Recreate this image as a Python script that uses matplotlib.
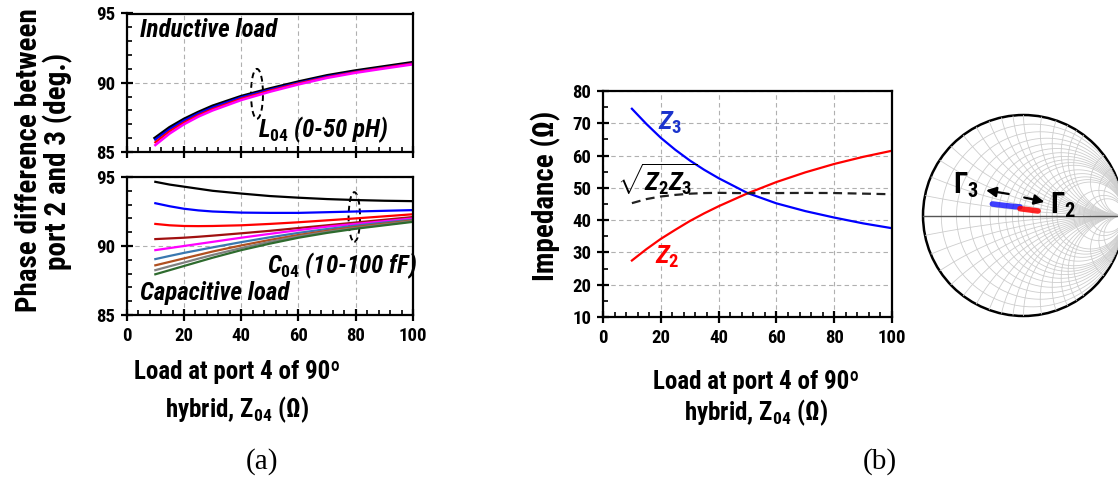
import numpy as np
import matplotlib
matplotlib.use("Agg")
import matplotlib.pyplot as plt
from matplotlib.ticker import MultipleLocator
from matplotlib.patches import Ellipse, Circle
from matplotlib import font_manager

# ---------------- data ----------------
load_a = [10, 15, 20, 25, 30, 40, 50, 60, 70, 80, 90, 100]

# inductive load, L04 = 0..50 pH
ind_black = [86.0, 86.75, 87.35, 87.85, 88.3, 89.0, 89.55, 90.05, 90.5, 90.85, 91.15, 91.45]
ind_blue = [85.9, 86.65, 87.27, 87.78, 88.22, 88.95, 89.5, 90.0, 90.45, 90.8, 91.1, 91.4]
ind_red = [85.7, 86.5, 87.13, 87.66, 88.1, 88.85, 89.43, 89.95, 90.4, 90.77, 91.08, 91.38]
ind_magenta = [85.5, 86.33, 87.0, 87.55, 88.0, 88.75, 89.35, 89.88, 90.35, 90.72, 91.03, 91.33]

# capacitive load, C04 = 10..100 fF
cap_black = [94.65, 94.45, 94.3, 94.15, 94.0, 93.8, 93.62, 93.5, 93.4, 93.33, 93.28, 93.25]
cap_blue = [93.1, 92.88, 92.7, 92.58, 92.5, 92.42, 92.4, 92.4, 92.45, 92.5, 92.55, 92.6]
cap_red = [91.6, 91.5, 91.45, 91.44, 91.45, 91.5, 91.6, 91.72, 91.86, 92.0, 92.15, 92.3]
cap_darkred = [90.5, 90.55, 90.6, 90.67, 90.75, 90.92, 91.1, 91.3, 91.5, 91.7, 91.9, 92.1]
cap_magenta = [89.7, 89.85, 90.0, 90.15, 90.3, 90.6, 90.88, 91.15, 91.4, 91.6, 91.8, 92.0]
cap_steel = [89.05, 89.28, 89.5, 89.7, 89.9, 90.28, 90.63, 90.95, 91.23, 91.48, 91.7, 91.9]
cap_brown = [88.6, 88.85, 89.1, 89.35, 89.6, 90.04, 90.44, 90.8, 91.1, 91.38, 91.62, 91.85]
cap_gray = [88.25, 88.53, 88.8, 89.08, 89.35, 89.85, 90.3, 90.7, 91.02, 91.3, 91.55, 91.8]
cap_green = [87.95, 88.25, 88.55, 88.85, 89.15, 89.7, 90.17, 90.6, 90.95, 91.25, 91.5, 91.75]
cap_colors = ["black", "blue", "red", "#a01010", "magenta", "#3a78b0", "#b05020",
              "#808080", "#2e6b2e"]

# impedances seen at ports 2 and 3
load_b = [10, 15, 20, 25, 30, 35, 40, 50, 60, 70, 80, 90, 100]
z3 = [74.5, 69.8, 65.5, 61.8, 58.5, 55.6, 53.0, 48.4, 45.2, 42.8, 40.8, 39.0, 37.5]
z2 = [27.5, 31.0, 34.2, 37.0, 39.7, 42.1, 44.3, 48.3, 51.8, 54.8, 57.4, 59.6, 61.5]
z_geo = np.sqrt(np.array(z2) * np.array(z3))

# reflection coefficients on the Smith chart
gamma3_re = [-0.31, -0.24, -0.17, -0.10, -0.035]
gamma3_im = [0.115, 0.106, 0.098, 0.090, 0.085]
gamma2_re = [-0.035, 0.01, 0.06, 0.10, 0.145]
gamma2_im = [0.068, 0.062, 0.056, 0.050, 0.045]

# ---------------- fonts ----------------
def pick_sans():
    names = {f.name for f in font_manager.fontManager.ttflist}
    for cand in ["Liberation Sans Narrow", "Arial Narrow", "Roboto Condensed",
                 "Open Sans Condensed", "DejaVu Sans Condensed", "Noto Sans Condensed"]:
        if cand in names:
            return cand, True
    return "Liberation Sans", False


sans, narrow = pick_sans()
fs = 18 if narrow else 16
fs_ylab = 21 if narrow else 18
plt.rcParams["font.family"] = [sans, "DejaVu Sans"]
plt.rcParams["font.weight"] = "bold"
plt.rcParams["axes.labelweight"] = "bold"
plt.rcParams["mathtext.fontset"] = "custom"
plt.rcParams["mathtext.rm"] = f"{sans}:bold"
plt.rcParams["mathtext.it"] = f"{sans}:bold:italic"
plt.rcParams["mathtext.bf"] = f"{sans}:bold"
plt.rcParams["mathtext.sf"] = f"{sans}:bold"

W, H = 1118, 480
fig = plt.figure(figsize=(W / 100, H / 100), dpi=100)


def px_axes(left, top, right, bottom):
    return fig.add_axes([left / W, 1 - bottom / H, (right - left) / W, (bottom - top) / H])


def px_text(x, y, s, **kw):
    return fig.text(x / W, 1 - y / H, s, **kw)


def style(ax, ymaj, ymin, show_x=True):
    for s in ax.spines.values():
        s.set_linewidth(1.6)
    ax.xaxis.set_major_locator(MultipleLocator(20))
    ax.xaxis.set_minor_locator(MultipleLocator(4))
    ax.yaxis.set_major_locator(MultipleLocator(ymaj))
    ax.yaxis.set_minor_locator(MultipleLocator(ymin))
    ax.tick_params(which="major", direction="inout", length=9, width=1.6, labelsize=13.5, pad=4)
    ax.tick_params(which="minor", direction="in", length=3.5, width=1.2)
    ax.tick_params(axis="x", which="both", top=False)
    ax.tick_params(axis="y", which="both", right=False)
    ax.grid(True, which="major", ls=(0, (4, 3)), lw=0.8, color="#b0b0b0")
    ax.set_xlim(0, 100)
    if not show_x:
        ax.tick_params(axis="x", labelbottom=False)


# ---------------- (a) inductive ----------------
ax1 = px_axes(126.7, 13.5, 413, 152)
style(ax1, 5, 1, show_x=False)
ax1.set_ylim(85, 95)
ax1.plot(load_a, ind_black, color="black", lw=2.6)
ax1.plot(load_a, ind_blue, color="blue", lw=1.6)
ax1.plot(load_a, ind_red, color="red", lw=1.6)
ax1.plot(load_a, ind_magenta, color="magenta", lw=1.8)
ax1.text(4.5, 93.8, "Inductive load", fontsize=fs, style="italic", va="center", ha="left")
ax1.text(46, 86.6, r"$L_{04}$ (0-50 pH)", fontsize=fs, style="italic", va="center", ha="left")
ax1.add_patch(Ellipse((45.5, 89.2), 4.2, 3.6, fill=False, ls=(0, (3, 2)), lw=1.4, color="black"))

# ---------------- (a) capacitive ----------------
ax2 = px_axes(126.7, 177, 413, 315)
style(ax2, 5, 1)
ax2.set_ylim(85, 95)
cap_all = [cap_black, cap_blue, cap_red, cap_darkred, cap_magenta,
           cap_steel, cap_brown, cap_gray, cap_green]
for color, vals in zip(cap_colors, cap_all):
    ax2.plot(load_a, vals, color=color, lw=1.6)
ax2.text(4.5, 86.6, "Capacitive load", fontsize=fs, style="italic", va="center", ha="left")
ax2.text(49, 88.6, r"$C_{04}$ (10-100 fF)", fontsize=fs, style="italic", va="center", ha="left")
ax2.add_patch(Ellipse((79.5, 92.1), 4.0, 3.6, fill=False, ls=(0, (3, 2)), lw=1.4, color="black"))

px_text(29, 160, "Phase difference between", rotation=90, fontsize=fs_ylab,
        ha="center", va="center")
px_text(58, 161, "port 2 and 3 (deg.)", rotation=90, fontsize=fs_ylab,
        ha="center", va="center")
px_text(237, 372, "Load at port 4 of 90º", fontsize=fs, ha="center", va="center")
px_text(237, 410, r"hybrid, Z$_{04}$ (Ω)", fontsize=fs, ha="center", va="center")

# ---------------- (b) impedances ----------------
ax3 = px_axes(603, 91, 892, 317)
style(ax3, 10, 5)
ax3.set_ylim(10, 80)
ax3.plot(load_b, z3, color="blue", lw=1.6)
ax3.plot(load_b, z2, color="red", lw=1.6)
ax3.plot(load_b, z_geo, color="#222222", lw=1.6, ls=(0, (4, 2.5)))
ax3.text(19, 70, r"$Z_3$", color="#1a33cc", fontsize=fs + 1, va="center", ha="left")
ax3.text(18, 28.5, r"$Z_2$", color="red", fontsize=fs + 1, va="center", ha="left")
ax3.text(5, 52.5, r"$\sqrt{Z_2Z_3}$", color="black", fontsize=fs + 1, va="center", ha="left")
px_text(546, 196, "Impedance (Ω)", rotation=90, fontsize=fs_ylab, ha="center", va="center")

px_text(756, 382, "Load at port 4 of 90º", fontsize=fs, ha="center", va="center")
px_text(756, 413, r"hybrid, Z$_{04}$ (Ω)", fontsize=fs, ha="center", va="center")

# captions
serif = dict(family=["Liberation Serif", "DejaVu Serif"], fontsize=21, weight="normal",
             ha="center", va="center")
px_text(262, 462, "(a)", **serif)
px_text(880, 462, "(b)", **serif)

# ---------------- Smith chart ----------------
axs = px_axes(921, 113, 1126, 318)
axs.set_xlim(-1.02, 1.02)
axs.set_ylim(-1.02, 1.02)
axs.set_aspect("equal")
axs.axis("off")
boundary = Circle((0, 0), 1.0, transform=axs.transData)
grid_kw = dict(color="#cdcdcd", lw=0.6)
r_vals = [0.1, 0.2, 0.3, 0.4, 0.5, 0.6, 0.7, 0.8, 0.9, 1.0, 1.2, 1.4, 1.6, 1.8, 2.0,
          3.0, 4.0, 5.0]
x_vals = [0.1, 0.2, 0.3, 0.4, 0.5, 0.6, 0.7, 0.8, 0.9, 1.0, 1.2, 1.4, 1.6, 1.8, 2.0,
          3.0, 4.0, 5.0]
t = np.linspace(0, 2 * np.pi, 400)
for r in r_vals:
    c, rad = r / (1 + r), 1 / (1 + r)
    ln, = axs.plot(c + rad * np.cos(t), rad * np.sin(t), **grid_kw)
    ln.set_clip_path(boundary)
for x in x_vals:
    for sgn in (1, -1):
        rad = 1 / x
        ln, = axs.plot(1 + rad * np.cos(t), sgn * rad + rad * np.sin(t), **grid_kw)
        ln.set_clip_path(boundary)
axs.plot([-1, 1.02], [0, 0], color="#555555", lw=1.0)
axs.add_patch(Circle((0, 0), 1.0, fill=False, lw=1.8, color="black"))

axs.plot(gamma3_re, gamma3_im, color="blue", lw=4, alpha=0.75, solid_capstyle="round")
axs.plot(gamma2_re, gamma2_im, color="red", lw=4, alpha=0.85, solid_capstyle="round")
axs.annotate("", xy=(-0.40, 0.255), xytext=(-0.12, 0.21),
             arrowprops=dict(arrowstyle="-|>", color="black", lw=1.6, mutation_scale=15))
axs.annotate("", xy=(0.235, 0.13), xytext=(-0.02, 0.185),
             arrowprops=dict(arrowstyle="-|>", color="black", lw=1.6, mutation_scale=15))
axs.text(-0.57, 0.30, r"$\Gamma_3$", fontsize=21, ha="center", va="center")
axs.text(0.26, 0.10, r"$\Gamma_2$", fontsize=21, ha="left", va="center")

fig.savefig("out.png", dpi=100)
